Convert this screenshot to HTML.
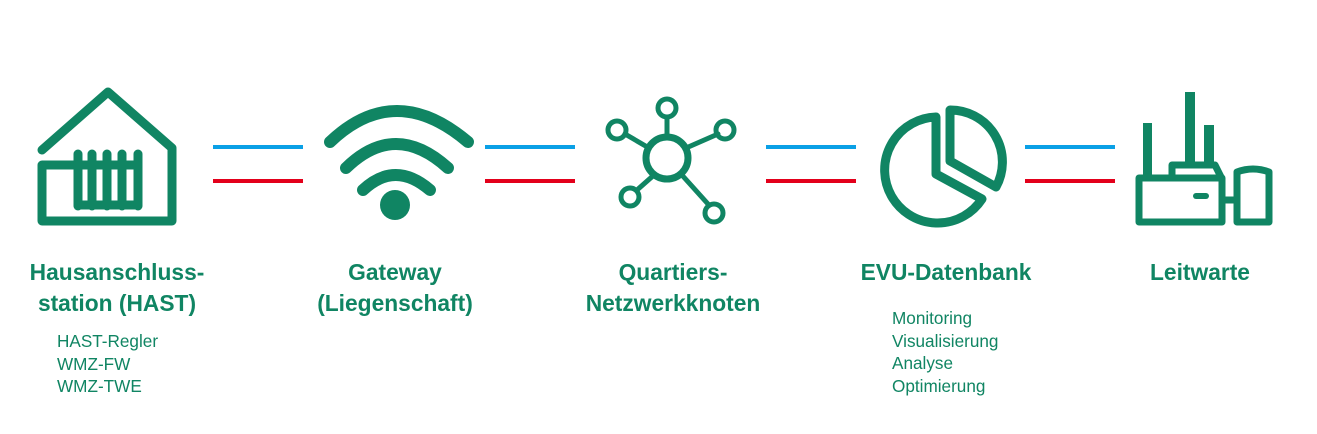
<!DOCTYPE html>
<html><head><meta charset="utf-8"><style>
body{margin:0;width:1317px;height:434px;background:#fff;overflow:hidden;position:relative;font-family:"Liberation Sans",sans-serif;color:#108563}
.t{position:absolute;font-weight:bold;font-size:23px;line-height:31px;text-align:center;transform:scaleX(0.99);white-space:nowrap}
.s{position:absolute;font-size:17.5px;line-height:22.5px;transform:scaleX(0.98);transform-origin:left top;white-space:nowrap}
</style></head><body>
<svg width="1317" height="434" style="position:absolute;left:0;top:0">
<g stroke="#108563" fill="none" stroke-width="9" stroke-linecap="round" stroke-linejoin="round">
<!-- house -->
<polyline points="42,150 108,92 172,148 172,221 42,221 42,165 78,165"/>
<line x1="78" y1="154" x2="78" y2="206"/><line x1="92" y1="154" x2="92" y2="206"/>
<line x1="107" y1="154" x2="107" y2="206"/><line x1="122" y1="154" x2="122" y2="206"/>
<line x1="138" y1="154" x2="138" y2="206"/>
<line x1="78" y1="165" x2="138" y2="165"/><line x1="78" y1="205" x2="138" y2="205"/>
<!-- wifi -->
<g stroke-width="12">
<path d="M330,142 Q395,80 468,142"/>
<path d="M346,168 Q395,120 448,168"/>
<path d="M363,190 Q395,160 430,190"/>
</g>
<!-- network -->
<circle cx="667" cy="158" r="21" stroke-width="7"/>
<g stroke-width="5">
<line x1="667" y1="117" x2="667" y2="137"/><line x1="625" y1="134" x2="649" y2="148"/>
<line x1="718" y1="134" x2="686" y2="148"/><line x1="637" y1="190" x2="654" y2="175"/>
<line x1="708" y1="204" x2="681" y2="174"/>
<circle cx="667" cy="108" r="9"/><circle cx="617" cy="130" r="9"/><circle cx="725" cy="130" r="9"/>
<circle cx="630" cy="197" r="9"/><circle cx="714" cy="213" r="9"/>
</g>
<!-- pie -->
<g stroke-width="9">
<path d="M936,117 L936,174 L982,199 A53,53 0 1,1 936,117 Z" stroke-linejoin="round"/>
<path d="M950,110 L950,161 L996,187 A52,52 0 0,0 950,110 Z"/>
</g>
</g>
<!-- factory -->
<g fill="#108563">
<rect x="1185" y="92" width="10" height="72"/>
<rect x="1143" y="123" width="9" height="55"/>
<rect x="1204" y="125" width="10" height="40"/>
<rect x="1193" y="193" width="16" height="6" rx="3"/>
</g>
<g stroke="#108563" fill="none" stroke-width="7" stroke-linejoin="round">
<path d="M1172,177 V165 H1215 L1221,177"/>
<rect x="1139" y="178" width="83" height="44"/>
<path d="M1222,222 V200 H1237 V222"/>
<path d="M1237,222 V172 Q1253,166 1269,172 V222 Z"/>
</g>
<circle cx="395" cy="205" r="15" fill="#108563"/>
<g stroke-width="4">
<line x1="213" y1="147" x2="303" y2="147" stroke="#0aa0e6"/><line x1="213" y1="181" x2="303" y2="181" stroke="#e3001b"/>
<line x1="485" y1="147" x2="575" y2="147" stroke="#0aa0e6"/><line x1="485" y1="181" x2="575" y2="181" stroke="#e3001b"/>
<line x1="766" y1="147" x2="856" y2="147" stroke="#0aa0e6"/><line x1="766" y1="181" x2="856" y2="181" stroke="#e3001b"/>
<line x1="1025" y1="147" x2="1115" y2="147" stroke="#0aa0e6"/><line x1="1025" y1="181" x2="1115" y2="181" stroke="#e3001b"/>
</g>
</svg>
<div class="t" style="left:-33px;width:300px;top:257px">Hausanschluss-<br>station (HAST)</div>
<div class="t" style="left:245px;width:300px;top:257px">Gateway<br>(Liegenschaft)</div>
<div class="t" style="left:523px;width:300px;top:257px">Quartiers-<br>Netzwerkknoten</div>
<div class="t" style="left:796px;width:300px;top:257px">EVU-Datenbank</div>
<div class="t" style="left:1050px;width:300px;top:257px">Leitwarte</div>
<div class="s" style="left:57px;top:330px">HAST-Regler<br>WMZ-FW<br>WMZ-TWE</div>
<div class="s" style="left:892px;top:307px">Monitoring<br>Visualisierung<br>Analyse<br>Optimierung</div>
</body></html>
